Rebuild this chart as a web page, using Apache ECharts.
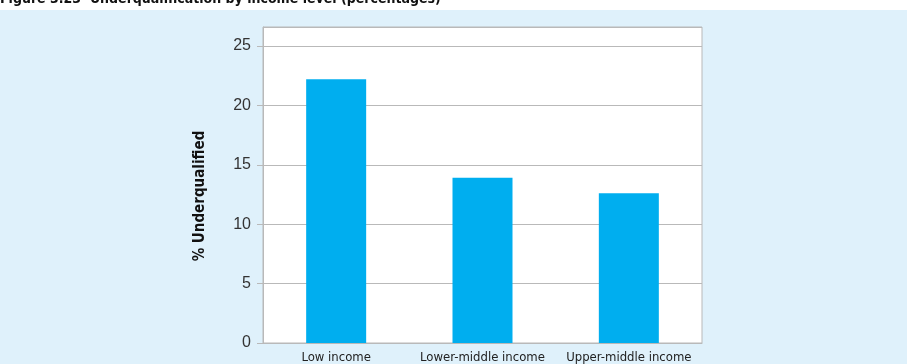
<!DOCTYPE html>
<html>
<head>
<meta charset="utf-8">
<script src="https://cdn.jsdelivr.net/npm/echarts@6/dist/echarts.min.js"></script>
<style>
  html, body { margin: 0; padding: 0; background: #ffffff; }
  #chart { width: 907px; height: 364px; }
</style>
</head>
<body>
<div id="chart"></div>
<script>
// Income groups and the share of underqualified workers in each
const categories = ['Low income', 'Lower-middle income', 'Upper-middle income'];
const underqualified = [22.2, 13.9, 12.6];
const yTicks = [0, 5, 10, 15, 20, 25];

const NARROW = "'DejaVu Sans Condensed', 'Liberation Sans Narrow', 'Roboto Condensed', Roboto, sans-serif";

const chart = echarts.init(document.getElementById('chart'), null, { renderer: 'canvas' });

chart.setOption({
  backgroundColor: '#ffffff',
  animation: false,
  title: {
    text: 'Figure 3.23  Underqualification by income level (percentages)',
    left: 0,
    top: -8,
    padding: 0,
    textStyle: {
      fontFamily: NARROW,
      fontWeight: 'bold',
      fontSize: 14,
      color: '#111111'
    }
  },
  graphic: [{
    type: 'rect',
    z: -10,
    shape: { x: 0, y: 10, width: 907, height: 354 },
    style: { fill: '#dff1fb' },
    silent: true
  }],
  grid: {
    left: 263,
    top: 27,
    width: 439,
    height: 316,
    show: true,
    backgroundColor: '#ffffff',
    borderColor: '#b9b9b9',
    borderWidth: 1
  },
  xAxis: {
    type: 'category',
    data: categories,
    axisLine: { show: true, lineStyle: { color: '#b9b9b9', width: 1 } },
    axisTick: { show: false },
    axisLabel: {
      interval: 0,
      margin: 8,
      fontFamily: NARROW,
      fontSize: 13,
      color: '#222222'
    }
  },
  yAxis: {
    type: 'value',
    min: 0,
    max: 26.6,
    interval: 5,
    name: '% Underqualified',
    nameLocation: 'middle',
    nameGap: 55,
    nameTextStyle: {
      fontFamily: NARROW,
      fontWeight: 'bold',
      fontSize: 15,
      color: '#111111',
      padding: [0, 22, 0, 0]
    },
    axisLine: { show: true, lineStyle: { color: '#b9b9b9', width: 1 } },
    axisTick: { show: true, length: 6, lineStyle: { color: '#b9b9b9' } },
    axisLabel: {
      showMaxLabel: false,
      margin: 12,
      fontFamily: 'Liberation Sans',
      fontSize: 16,
      color: '#333333',
      formatter: v => (yTicks.includes(v) ? String(v) : '')
    },
    splitLine: { show: true, lineStyle: { color: '#b9b9b9', width: 1 } }
  },
  series: [{
    type: 'bar',
    data: underqualified,
    barWidth: 60,
    itemStyle: { color: '#00aeef' }
  }]
});
</script>
</body>
</html>
